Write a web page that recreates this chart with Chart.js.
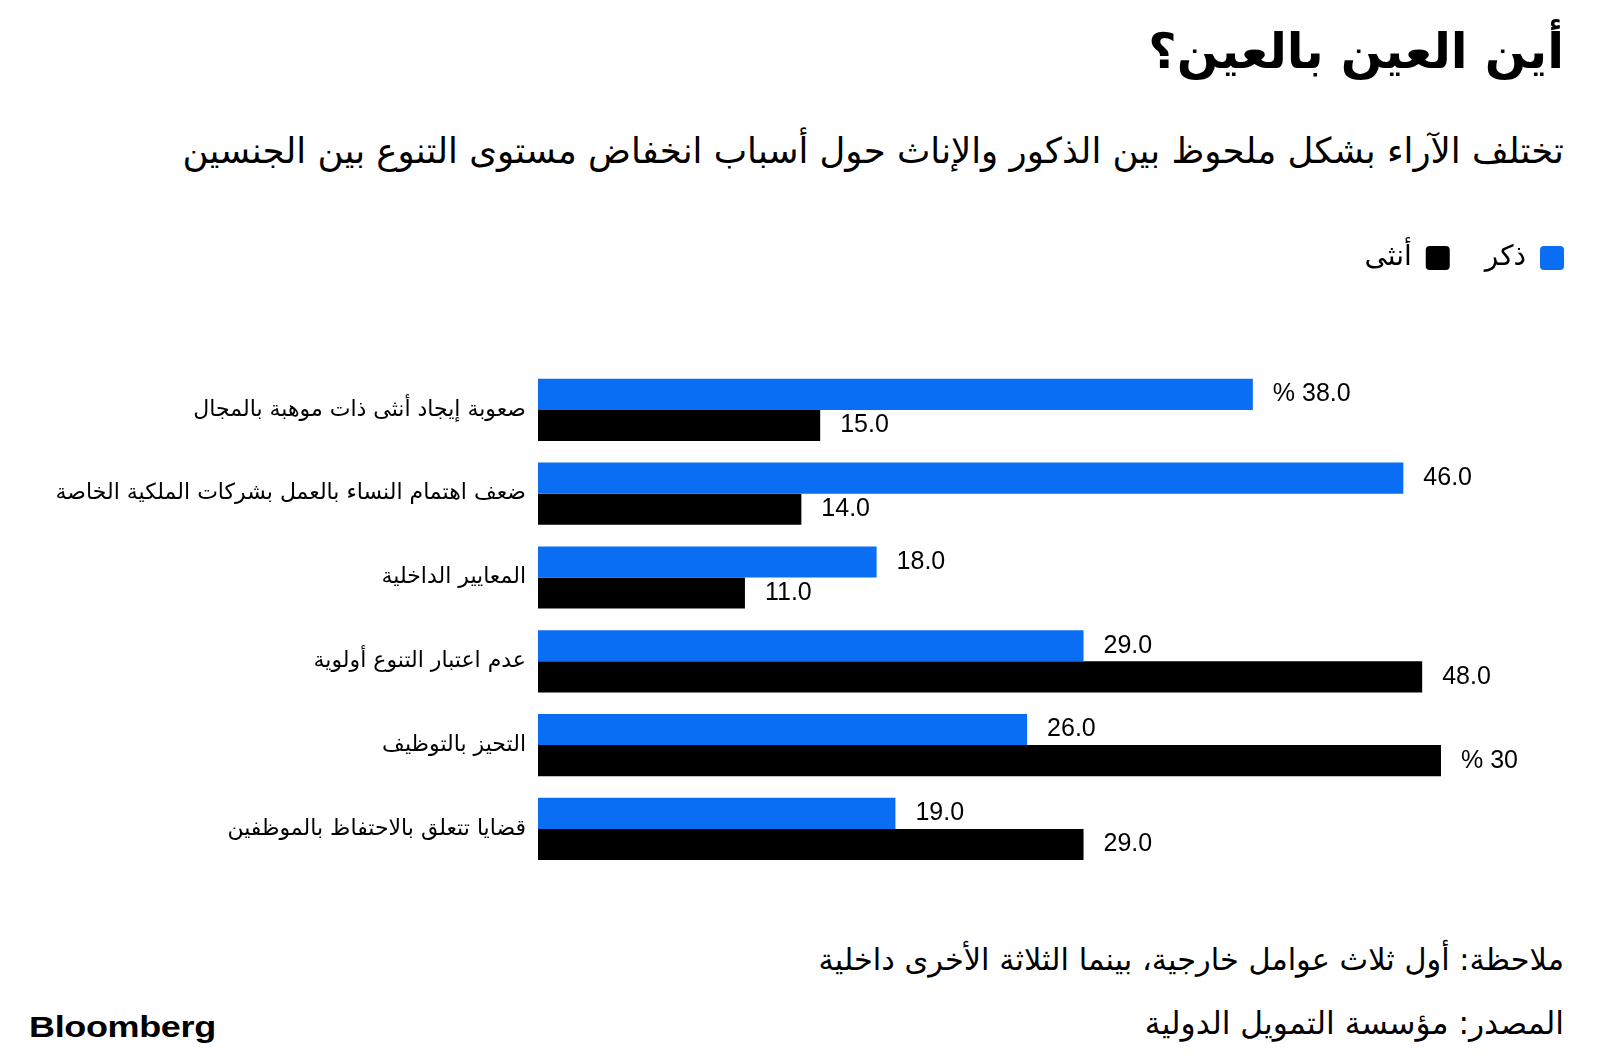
<!DOCTYPE html>
<html lang="ar">
<head>
<meta charset="utf-8">
<script src="https://cdn.jsdelivr.net/npm/chart.js@4"></script>
<style>
  body { margin: 0; width: 1600px; height: 1060px; background: #fff; position: relative; overflow: hidden; font-family: "DejaVu Sans", sans-serif; color: #000; }
  .rtl { position: absolute; right: 36px; direction: rtl; white-space: nowrap; line-height: 1; }
  #title { top: 27px; font-size: 49px; font-weight: bold; }
  #subtitle { top: 133px; font-size: 35.5px; }
  #note { top: 945px; font-size: 30.4px; }
  #source { top: 1008px; font-size: 31.3px; }
  #logo { position: absolute; left: 29px; top: 1010px; font-family: "Liberation Sans", Arial, sans-serif; font-weight: bold; font-size: 30px; transform: scaleX(1.2); transform-origin: left; letter-spacing: -0.3px; }
  #wrap { position: absolute; left: 0; top: 209px; width: 1600px; height: 687px; }
</style>
</head>
<body>
<div id="title" class="rtl">أين العين بالعين؟</div>
<div id="subtitle" class="rtl">تختلف الآراء بشكل ملحوظ بين الذكور والإناث حول أسباب انخفاض مستوى التنوع بين الجنسين</div>
<div id="wrap"><canvas id="chart"></canvas></div>
<div id="note" class="rtl">ملاحظة: أول ثلاث عوامل خارجية، بينما الثلاثة الأخرى داخلية</div>
<div id="source" class="rtl">المصدر: مؤسسة التمويل الدولية</div>
<div id="logo">Bloomberg</div>
<script>
const categories = [
    "صعوبة إيجاد أنثى ذات موهبة بالمجال",
    "ضعف اهتمام النساء بالعمل بشركات الملكية الخاصة",
    "المعايير الداخلية",
    "عدم اعتبار التنوع أولوية",
    "التحيز بالتوظيف",
    "قضايا تتعلق بالاحتفاظ بالموظفين"
];
const maleValues = [38, 46, 18, 29, 26, 19];
const femaleValues = [15, 14, 11, 47, 48, 29];
const maleLabels = ["% 38.0", "46.0", "18.0", "29.0", "26.0", "19.0"];
const femaleLabels = ["15.0", "14.0", "11.0", "48.0", "% 30", "29.0"];
const seriesNames = ["ذكر", "أنثى"];

const arabicFont = '"DejaVu Sans", sans-serif';

// push the plot down below the legend
const legendGap = {
    id: 'legendGap',
    beforeInit(chart) {
        const fit = chart.legend.fit;
        chart.legend.fit = function () {
            fit.bind(chart.legend)();
            this.height += 86;
        };
    }
};

// numbers at the end of each bar
const barValues = {
    id: 'barValues',
    afterDatasetsDraw(chart) {
        const ctx = chart.ctx;
        const texts = [maleLabels, femaleLabels];
        ctx.save();
        ctx.font = '25px "Liberation Sans", Arial, sans-serif';
        ctx.fillStyle = '#000';
        ctx.textAlign = 'left';
        ctx.textBaseline = 'middle';
        ctx.direction = 'ltr';
        chart.data.datasets.forEach((ds, d) => {
            chart.getDatasetMeta(d).data.forEach((bar, i) => {
                ctx.fillText(texts[d][i], bar.x + 20, bar.y);
            });
        });
        ctx.restore();
    }
};

const ctx = document.getElementById("chart").getContext("2d");

new Chart(ctx, {
    type: 'bar',
    data: {
        labels: categories,
        datasets: [
            {
                label: seriesNames[0],
                data: maleValues,
                backgroundColor: '#0a6ef5',
                borderWidth: 0
            },
            {
                label: seriesNames[1],
                data: femaleValues,
                backgroundColor: '#000000',
                borderWidth: 0
            }
        ]
    },
    options: {
        indexAxis: 'y',
        responsive: true,
        maintainAspectRatio: false,
        animation: false,
        datasets: {
            bar: { barPercentage: 1, categoryPercentage: 0.742 }
        },
        layout: { padding: { left: 0, right: 1, top: 0, bottom: 0 } },
        plugins: {
            legend: {
                position: 'top',
                align: 'start',
                rtl: true,
                textDirection: 'rtl',
                labels: {
                    boxWidth: 24,
                    boxHeight: 24,
                    useBorderRadius: true,
                    borderRadius: 4,
                    padding: 35,
                    color: '#000',
                    font: { family: arabicFont, size: 28 }
                }
            },
            tooltip: { enabled: false }
        },
        scales: {
            x: {
                display: false,
                min: 0,
                max: 56.4
            },
            y: {
                grid: { display: false, drawTicks: false },
                border: { display: false },
                ticks: {
                    color: '#000',
                    padding: 12,
                    font: { family: arabicFont, size: 22 }
                },
                afterFit(scale) { scale.width = 538; }
            }
        }
    },
    plugins: [legendGap, barValues]
});
</script>
</body>
</html>
